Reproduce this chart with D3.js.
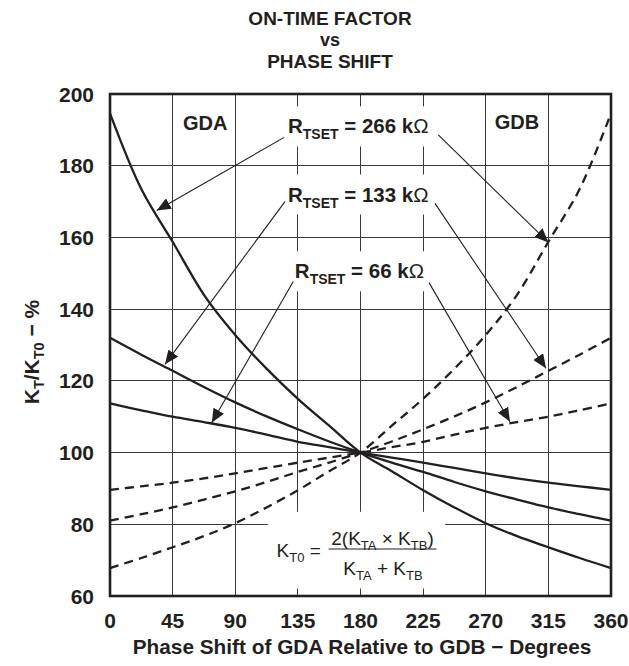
<!DOCTYPE html>
<html><head><meta charset="utf-8">
<script src="https://cdn.jsdelivr.net/npm/d3@7"></script>
<style>
body{margin:0;background:#fff}
svg{display:block}
text{font-family:"Liberation Sans",Arial,Helvetica,sans-serif;fill:#231f20}
</style>
</head><body>
<svg id="c" width="629" height="666"></svg>
<script>
// ---------- data ----------
const phase  = [0,22.5,45,67.5,90,112.5,135,157.5,180,202.5,225,247.5,270,292.5,315,337.5,360];
const gda266 = [194.6,173.5,158.8,144.0,132.8,123.4,115.0,107.5,100,94.8,89.5,84.7,80.3,76.7,73.6,70.6,67.8];
const gda133 = [132.0,127.3,122.8,118.3,114.0,110.1,106.5,103.1,100,97.2,94.6,91.8,89.2,86.9,84.7,82.8,81.0];
const gda66  = [113.7,111.8,110.0,108.5,106.9,105.0,103.0,101.5,100,98.6,97.2,95.7,94.2,92.8,91.6,90.6,89.6];
const gdb266 = [67.8,70.6,73.6,76.7,80.3,84.7,89.5,94.8,100,107.5,115.0,123.4,132.8,144.0,158.8,173.5,194.6];
const gdb133 = [81.0,82.8,84.7,86.9,89.2,91.8,94.6,97.2,100,103.1,106.5,110.1,114.0,118.3,122.8,127.3,132.0];
const gdb66  = [89.6,90.6,91.6,92.8,94.2,95.7,97.2,98.6,100,101.5,103.0,105.0,106.9,108.5,110.0,111.8,113.7];
const xTicks = [0,45,90,135,180,225,270,315,360];
const yTicks = [60,80,100,120,140,160,180,200];
const rLabels = ["266","133","66"];

// ---------- layout ----------
const svg = d3.select("#c");
const L = 110, R = 611, T = 94, B = 596;
const x = d3.scaleLinear().domain([0,360]).range([L,R]);
const y = d3.scaleLinear().domain([60,200]).range([B,T]);
const ink = "#231f20";

// title
const title = svg.append("g").attr("font-weight","bold").attr("text-anchor","middle");
[["ON-TIME FACTOR",25,19],["vs",46,18],["PHASE SHIFT",68,19]].forEach(([t,yy,fs])=>{
  title.append("text").attr("x",330).attr("y",yy).attr("font-size",fs).text(t);
});

// grid
const grid = svg.append("g").attr("stroke","#3a3a3a").attr("stroke-width",1.1).attr("shape-rendering","crispEdges");
grid.selectAll(".h").data(yTicks.slice(1,-1)).join("line")
  .attr("x1",L).attr("x2",R).attr("y1",d=>y(d)).attr("y2",d=>y(d));
grid.selectAll(".v").data(xTicks.slice(1,-1)).join("line")
  .attr("y1",T).attr("y2",B).attr("x1",d=>x(d)).attr("x2",d=>x(d));

// masks (white areas behind annotations)
const masks = svg.append("g").attr("fill","#fff");
masks.append("rect").attr("x",x(113.3)).attr("y",y(83.5)).attr("width",x(240.8)-x(113.3)).attr("height",y(62.1)-y(83.5));

// annotation labels
const lab = svg.append("g").attr("font-weight","bold");
const labPos = [[127.9,189.0],[127.9,170.0],[132.8,148.6]];
rLabels.forEach((v,i)=>{
  const t = lab.append("text").attr("x",x(labPos[i][0])).attr("y",y(labPos[i][1])).attr("font-size",20.5);
  t.append("tspan").text("R");
  t.append("tspan").attr("font-size",14).attr("dy",6).text("TSET");
  t.append("tspan").attr("dy",-6).text(" = "+v+" k");
  t.append("tspan").attr("font-weight","normal").text("Ω");
  const bb = t.node().getBBox();
  masks.append("rect").attr("x",bb.x-6).attr("y",bb.y-8).attr("width",bb.width+12).attr("height",bb.height+12);
});
lab.append("text").attr("x",x(52.5)).attr("y",y(190.0)).attr("font-size",20).text("GDA");
lab.append("text").attr("x",x(276.5)).attr("y",y(190.2)).attr("font-size",20).text("GDB");

// bottom short ticks where grid is masked
grid.selectAll(".bt").data([135,180,225]).join("line")
  .attr("x1",d=>x(d)).attr("x2",d=>x(d)).attr("y1",B-8).attr("y2",B);

// curves
const line = d3.line().x((d,i)=>x(phase[i])).y(d=>y(d)).curve(d3.curveCatmullRom.alpha(0.5));
const curves = svg.append("g").attr("fill","none").attr("stroke",ink).attr("stroke-width",2.3);
[gda266,gda133,gda66].forEach(s=>curves.append("path").attr("d",line(s)));
[gdb266,gdb133,gdb66].forEach(s=>curves.append("path").attr("d",line(s)).attr("stroke-dasharray","9,6"));

// frame
svg.append("rect").attr("x",L).attr("y",T).attr("width",R-L).attr("height",B-T)
  .attr("fill","none").attr("stroke",ink).attr("stroke-width",2.6);

// arrows
svg.append("defs").append("marker").attr("id","ah").attr("markerUnits","userSpaceOnUse")
  .attr("viewBox","0 0 14 12").attr("refX",14).attr("refY",6).attr("markerWidth",14).attr("markerHeight",12)
  .attr("orient","auto").append("path").attr("d","M0,0 L14,6 L0,12 Z").attr("fill",ink);
const arrows = [
  [[125.2,187.9],[33.6,167.5]], [[235.9,188.6],[315.0,158.6]],
  [[125.7,170.0],[39.5,124.6]], [[233.5,169.5],[313.3,123.5]],
  [[131.7,147.7],[73.1,108.3]], [[229.2,147.4],[287.4,108.6]]
];
svg.append("g").selectAll("line").data(arrows).join("line")
  .attr("x1",d=>x(d[0][0])).attr("y1",d=>y(d[0][1]))
  .attr("x2",d=>x(d[1][0])).attr("y2",d=>y(d[1][1]))
  .attr("stroke",ink).attr("stroke-width",1.1).attr("marker-end","url(#ah)");

// formula
const f = svg.append("g").attr("font-size",19);
const kt0 = f.append("text").attr("x",276.5).attr("y",557);
kt0.append("tspan").text("K");
kt0.append("tspan").attr("font-size",13).attr("dy",5).text("T0");
kt0.append("tspan").attr("dy",-5).text(" =");
const num = f.append("text").attr("x",382.5).attr("y",545).attr("text-anchor","middle");
num.append("tspan").text("2(K");
num.append("tspan").attr("font-size",13).attr("dy",5).text("TA");
num.append("tspan").attr("dy",-5).text(" × K");
num.append("tspan").attr("font-size",13).attr("dy",5).text("TB");
num.append("tspan").attr("dy",-5).text(")");
f.append("line").attr("x1",328.5).attr("x2",436.5).attr("y1",549).attr("y2",549).attr("stroke",ink).attr("stroke-width",1.1);
const den = f.append("text").attr("x",383).attr("y",575).attr("text-anchor","middle");
den.append("tspan").text("K");
den.append("tspan").attr("font-size",13).attr("dy",5).text("TA");
den.append("tspan").attr("dy",-5).text(" + K");
den.append("tspan").attr("font-size",13).attr("dy",5).text("TB");

// axes tick labels
const ax = svg.append("g").attr("font-weight","bold").attr("font-size",21);
ax.selectAll(".yl").data(yTicks).join("text").attr("text-anchor","end")
  .attr("x",L-16).attr("y",d=>y(d)+7.5).text(d=>d);
ax.selectAll(".xl").data(xTicks).join("text").attr("text-anchor","middle")
  .attr("x",d=>x(d)).attr("y",B+32).text(d=>d);

// axis titles
svg.append("text").attr("x",362).attr("y",654).attr("text-anchor","middle")
  .attr("font-weight","bold").attr("font-size",20.8).text("Phase Shift of GDA Relative to GDB − Degrees");
const yt = svg.append("text").attr("transform","translate(39,352) rotate(-90)").attr("text-anchor","middle")
  .attr("font-weight","bold").attr("font-size",21);
yt.append("tspan").text("K");
yt.append("tspan").attr("font-size",14.5).attr("dy",5).text("T");
yt.append("tspan").attr("dy",-5).text("/K");
yt.append("tspan").attr("font-size",14.5).attr("dy",5).text("T0");
yt.append("tspan").attr("dy",-5).text(" − %");
</script>
</body></html>
